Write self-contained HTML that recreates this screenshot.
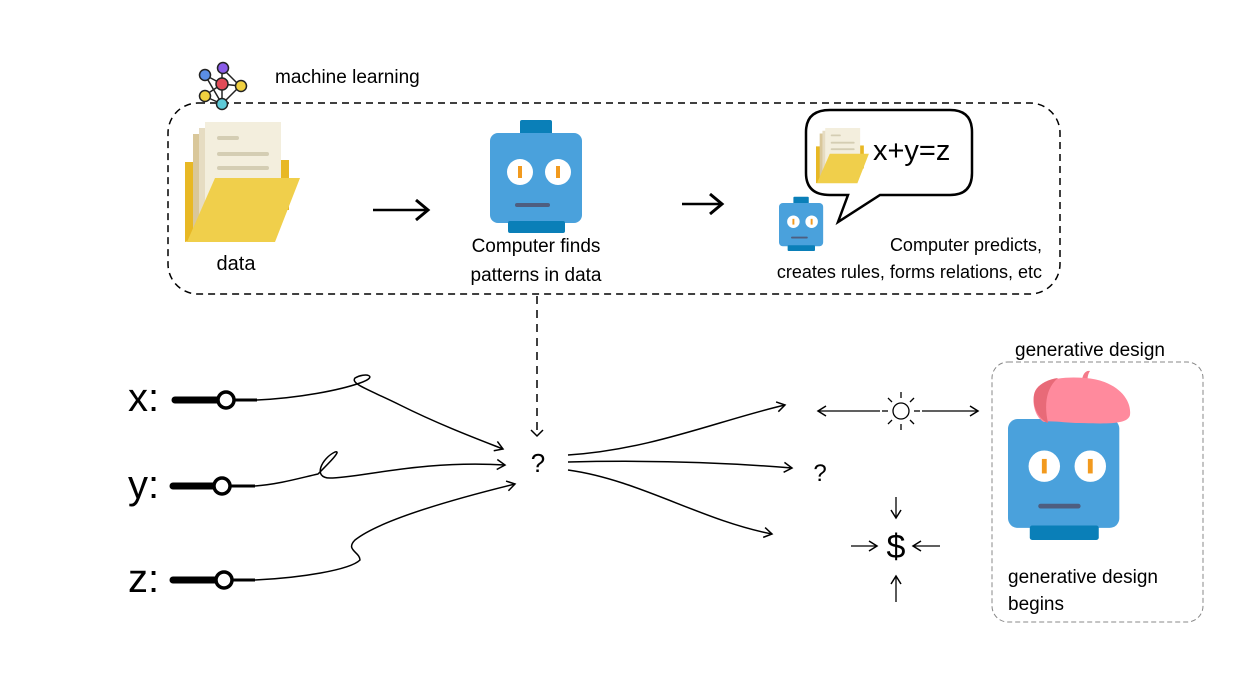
<!DOCTYPE html>
<html><head><meta charset="utf-8"><style>
html,body{margin:0;padding:0;background:#fff;}
svg{display:block;font-family:"Liberation Sans","DejaVu Sans",sans-serif;}
</style></head><body>
<svg width="1254" height="698" viewBox="0 0 1254 698" xmlns="http://www.w3.org/2000/svg">
<defs>
<g id="folder">
<path d="M0 40 L0 120 L10 118 L10 40 Z" fill="#E8B824"/>
<rect x="8" y="12" width="40" height="100" fill="#D9C79A"/>
<rect x="14" y="6" width="44" height="100" fill="#E6DCC2"/>
<rect x="20" y="0" width="76" height="100" fill="#F3EEDD"/>
<rect x="32" y="14" width="22" height="4" rx="2" fill="#D4CDB3"/>
<rect x="32" y="30" width="52" height="4" rx="2" fill="#D4CDB3"/>
<rect x="32" y="44" width="52" height="4" rx="2" fill="#D4CDB3"/>
<rect x="96" y="38" width="8" height="50" fill="#E8B824"/>
<path d="M30 56 L115 56 L90 120 L2 120 Z" fill="#F0CF4B"/>
</g>
<g id="robot">
<rect x="30" y="-13" width="32" height="16" rx="2" fill="#0A7FB8"/>
<rect x="0" y="0" width="92" height="90" rx="8" fill="#4AA1DC"/>
<rect x="18" y="88" width="57" height="12" rx="2" fill="#0A7FB8"/>
<circle cx="30" cy="39" r="13" fill="#fff"/><circle cx="68" cy="39" r="13" fill="#fff"/>
<rect x="28" y="33" width="4" height="12" fill="#F29A1E"/><rect x="66" y="33" width="4" height="12" fill="#F29A1E"/>
<rect x="25" y="70" width="35" height="4" rx="2" fill="#4E5E80"/>
</g>
<marker id="ah" markerWidth="12" markerHeight="12" refX="10" refY="6" orient="auto" markerUnits="userSpaceOnUse">
<path d="M2 1 L10 6 L2 11" fill="none" stroke="#000" stroke-width="1.5"/></marker>
<marker id="big" markerWidth="20" markerHeight="24" refX="16" refY="12" orient="auto" markerUnits="userSpaceOnUse">
<path d="M4 2 L16 12 L4 22" fill="none" stroke="#000" stroke-width="3"/></marker>
</defs>

<rect x="168" y="103" width="892" height="191" rx="30" fill="none" stroke="#000" stroke-width="1.5" stroke-dasharray="7,5"/>
<g stroke="#222" stroke-width="1.5">
<line x1="205" y1="75" x2="222" y2="84"/><line x1="222" y1="68" x2="222" y2="104"/><line x1="205" y1="75" x2="222" y2="104"/>
<line x1="222" y1="68" x2="240" y2="86"/><line x1="204" y1="96" x2="222" y2="84"/><line x1="240" y1="86" x2="222" y2="104"/>
<line x1="204" y1="96" x2="222" y2="104"/><line x1="222" y1="84" x2="240" y2="86"/>
<circle cx="205" cy="75" r="5.5" fill="#5B8EE6"/><circle cx="223" cy="68" r="5.5" fill="#8A5CE8"/>
<circle cx="222" cy="84" r="6" fill="#E04B58"/><circle cx="241" cy="86" r="5.5" fill="#F0D040"/>
<circle cx="205" cy="96" r="5.5" fill="#F0D040"/><circle cx="222" cy="104" r="5.5" fill="#5DCAD8"/>
</g>
<text x="275" y="83" font-size="19">machine learning</text>

<use href="#folder" x="185" y="122"/>
<text x="236" y="270" font-size="20" text-anchor="middle">data</text>
<line x1="373" y1="210" x2="428" y2="210" stroke="#000" stroke-width="2.5" marker-end="url(#big)"/>
<use href="#robot" x="490" y="133"/>
<text x="536" y="252" font-size="19" text-anchor="middle">Computer finds</text>
<text x="536" y="281" font-size="19" text-anchor="middle">patterns in data</text>
<line x1="682" y1="204" x2="722" y2="204" stroke="#000" stroke-width="2.5" marker-end="url(#big)"/>

<path d="M830 110 L950 110 Q972 110 972 132 L972 173 Q972 195 950 195 L880 195 L838 222 L848 195 L830 195 Q806 195 806 173 L806 132 Q806 110 830 110 Z" fill="#fff" stroke="#000" stroke-width="2.5"/>
<use href="#folder" transform="translate(816,128) scale(0.46)"/>
<text x="873" y="160" font-size="29">x+y=z</text>
<use href="#robot" transform="translate(779,203) scale(0.48)"/>
<text x="1042" y="251" font-size="18" text-anchor="end">Computer predicts,</text>
<text x="1042" y="278" font-size="18" text-anchor="end">creates rules, forms relations, etc</text>

<line x1="537" y1="296" x2="537" y2="432" stroke="#000" stroke-width="1.5" stroke-dasharray="8,6"/>
<path d="M531 430 L537 436 L543 430" fill="none" stroke="#000" stroke-width="1.5"/>
<text x="538" y="472" font-size="26" text-anchor="middle">?</text>

<g font-size="40">
<text x="128" y="411">x:</text><text x="128" y="498">y:</text><text x="128" y="592">z:</text>
</g>
<g stroke="#000">
<line x1="175" y1="400" x2="220" y2="400" stroke-width="7" stroke-linecap="round"/><line x1="230" y1="400" x2="257" y2="400" stroke-width="3"/>
<circle cx="226" cy="400" r="8" fill="#fff" stroke-width="3.5"/>
<line x1="173" y1="486" x2="216" y2="486" stroke-width="7" stroke-linecap="round"/><line x1="226" y1="486" x2="255" y2="486" stroke-width="3"/>
<circle cx="222" cy="486" r="8" fill="#fff" stroke-width="3.5"/>
<line x1="173" y1="580" x2="216" y2="580" stroke-width="7" stroke-linecap="round"/><line x1="226" y1="580" x2="255" y2="580" stroke-width="3"/>
<circle cx="224" cy="580" r="8" fill="#fff" stroke-width="3.5"/>
</g>
<g fill="none" stroke="#000" stroke-width="1.5">
<path d="M257 400 C300 398 340 390 360 383 C380 376 365 372 355 378 C350 384 370 390 400 405 C440 425 480 440 503 449" marker-end="url(#ah)"/>
<path d="M255 486 C280 484 300 478 318 474 C330 462 342 450 335 452 C322 458 312 478 330 478 C360 478 420 460 505 465" marker-end="url(#ah)"/>
<path d="M255 580 C300 578 350 570 360 560 C360 552 345 550 355 540 C380 520 450 500 515 484" marker-end="url(#ah)"/>
<path d="M568 455 C650 450 720 420 785 405" marker-end="url(#ah)"/>
<path d="M568 462 C650 460 720 462 792 468" marker-end="url(#ah)"/>
<path d="M568 470 C640 480 700 520 772 534" marker-end="url(#ah)"/>
</g>

<g stroke="#000" stroke-width="1.3" fill="none">
<line x1="880" y1="411" x2="818" y2="411" marker-end="url(#ah)"/>
<line x1="922" y1="411" x2="978" y2="411" marker-end="url(#ah)"/>
<circle cx="901" cy="411" r="8"/>
<line x1="901" y1="392" x2="901" y2="398"/><line x1="901" y1="424" x2="901" y2="430"/>
<line x1="882" y1="411" x2="888" y2="411"/><line x1="914" y1="411" x2="920" y2="411"/>
<line x1="888" y1="398" x2="892" y2="402"/><line x1="910" y1="420" x2="914" y2="424"/>
<line x1="914" y1="398" x2="910" y2="402"/><line x1="892" y1="420" x2="888" y2="424"/>
<line x1="896" y1="497" x2="896" y2="518" marker-end="url(#ah)"/>
<line x1="896" y1="602" x2="896" y2="576" marker-end="url(#ah)"/>
<line x1="851" y1="546" x2="877" y2="546" marker-end="url(#ah)"/>
<line x1="940" y1="546" x2="913" y2="546" marker-end="url(#ah)"/>
</g>
<text x="820" y="481" font-size="24" text-anchor="middle">?</text>
<text x="896" y="558" font-size="34" text-anchor="middle">$</text>

<rect x="992" y="362" width="211" height="260" rx="16" fill="none" stroke="#888" stroke-width="1" stroke-dasharray="5,3"/>
<text x="1015" y="356" font-size="19">generative design</text>
<use href="#robot" transform="translate(1008,419) scale(1.21,1.21)"/>
<path d="M1082 382 C1082 374 1086 370 1090 371 C1088 374 1087 378 1088 382 Z" fill="#F47A8A"/>
<path d="M1034 395 C1036 380 1060 376 1085 378 C1115 380 1132 398 1130 415 C1128 424 1110 424 1080 423 C1065 423 1052 420 1044 422 C1036 418 1032 405 1034 395 Z" fill="#FF8A9D"/>
<path d="M1034 395 C1036 385 1048 379 1058 378 C1046 388 1044 405 1048 423 C1040 420 1032 408 1034 395 Z" fill="#E86A78"/>
<text x="1008" y="583" font-size="19">generative design</text>
<text x="1008" y="610" font-size="19">begins</text>
</svg>
</body></html>
